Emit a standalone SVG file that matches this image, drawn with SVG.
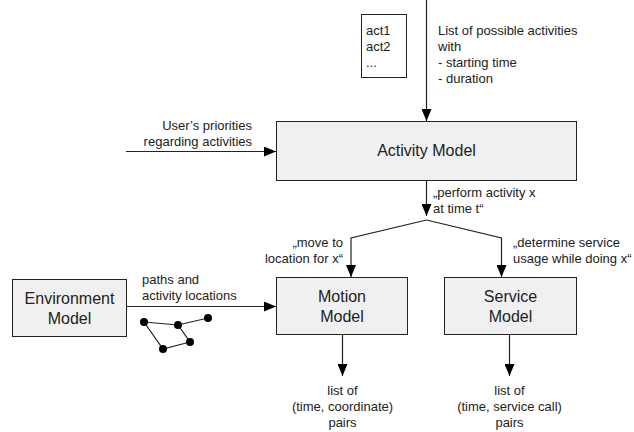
<svg xmlns="http://www.w3.org/2000/svg" width="634" height="432" viewBox="0 0 634 432">
<defs>
<marker id="arr" viewBox="0 0 12 10" refX="12" refY="5" markerWidth="12" markerHeight="10" markerUnits="userSpaceOnUse" orient="auto">
<path d="M0,0 L12,5 L0,10 Z" fill="#000"/>
</marker>
<style>
.box{fill:#f0f0f0;stroke:#222;stroke-width:1}
.note{fill:#fff;stroke:#222;stroke-width:1}
.big{font-family:"Liberation Sans",Arial,sans-serif;font-size:16px;fill:#222;text-anchor:middle}
.sm{font-family:"Liberation Sans",Arial,sans-serif;font-size:13px;fill:#222}
.ln{fill:none;stroke:#222;stroke-width:1.2}
.dot{fill:#000}
</style>
</defs>
<rect width="634" height="432" fill="#fff"/>

<g id="activity-list">
<rect class="note" x="361.5" y="14.5" width="45" height="63"/>
<text class="sm" x="366" y="35">act1</text>
<text class="sm" x="366" y="51">act2</text>
<text class="sm" x="366" y="67">...</text>
</g>

<g id="activity-model">
<rect class="box" x="276.5" y="121.5" width="300" height="59"/>
<text class="big" x="426.5" y="156">Activity Model</text>
</g>

<g id="environment-model">
<rect class="box" x="12.5" y="279.5" width="114" height="57"/>
<text class="big" x="69.5" y="304">Environment</text>
<text class="big" x="69.5" y="324">Model</text>
</g>

<g id="motion-model">
<rect class="box" x="276.5" y="277.5" width="131" height="57"/>
<text class="big" x="342" y="302">Motion</text>
<text class="big" x="342" y="322">Model</text>
</g>

<g id="service-model">
<rect class="box" x="444.5" y="277.5" width="132" height="57"/>
<text class="big" x="510.5" y="302">Service</text>
<text class="big" x="510.5" y="322">Model</text>
</g>

<g id="path-graph">
<polyline class="ln" points="144,322 178,325 208,318"/>
<polyline class="ln" points="178,325 190,342 163,349 144,322"/>
<circle class="dot" cx="144" cy="322" r="4"/>
<circle class="dot" cx="178" cy="325" r="4"/>
<circle class="dot" cx="208" cy="318" r="4"/>
<circle class="dot" cx="190" cy="342" r="4"/>
<circle class="dot" cx="163" cy="349" r="4"/>
</g>

<g id="connectors">
<line class="ln" x1="426.5" y1="0" x2="426.5" y2="121" marker-end="url(#arr)" transform="translate(0,0)"/>
<line class="ln" x1="126" y1="151.5" x2="276" y2="151.5" marker-end="url(#arr)"/>
<line class="ln" x1="426.5" y1="181" x2="426.5" y2="216" marker-end="url(#arr)"/>
<polyline class="ln" points="426.5,220 351,238 351,277" marker-end="url(#arr)"/>
<polyline class="ln" points="426.5,220 501.5,238 501.5,277" marker-end="url(#arr)"/>
<line class="ln" x1="127" y1="306.5" x2="276" y2="306.5" marker-end="url(#arr)"/>
<line class="ln" x1="342.5" y1="335" x2="342.5" y2="376" marker-end="url(#arr)"/>
<line class="ln" x1="509.5" y1="335" x2="509.5" y2="376" marker-end="url(#arr)"/>
</g>

<g id="labels">
<text class="sm" x="438" y="35">List of possible activities</text>
<text class="sm" x="438" y="51">with</text>
<text class="sm" x="438" y="67">- starting time</text>
<text class="sm" x="438" y="83">- duration</text>
<text class="sm" x="252" y="130" text-anchor="end">User’s priorities</text>
<text class="sm" x="252" y="146" text-anchor="end">regarding activities</text>
<text class="sm" x="433" y="197">„perform activity x</text>
<text class="sm" x="433" y="213">at time t“</text>
<text class="sm" x="343" y="247" text-anchor="end">„move to</text>
<text class="sm" x="343" y="263" text-anchor="end">location for x“</text>
<text class="sm" x="513" y="247">„determine service</text>
<text class="sm" x="513" y="263">usage while doing x“</text>
<text class="sm" x="142" y="284">paths and</text>
<text class="sm" x="142" y="300">activity locations</text>
<text class="sm" x="342.5" y="395" text-anchor="middle">list of</text>
<text class="sm" x="342.5" y="411" text-anchor="middle">(time, coordinate)</text>
<text class="sm" x="342.5" y="427" text-anchor="middle">pairs</text>
<text class="sm" x="509.5" y="395" text-anchor="middle">list of</text>
<text class="sm" x="509.5" y="411" text-anchor="middle">(time, service call)</text>
<text class="sm" x="509.5" y="427" text-anchor="middle">pairs</text>
</g>
</svg>
